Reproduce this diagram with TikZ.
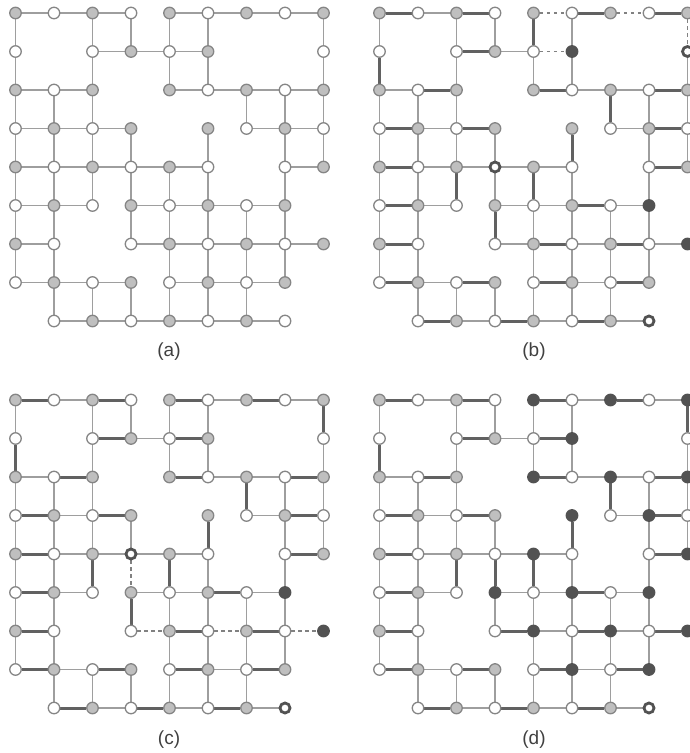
\documentclass[tikz,border=0pt]{standalone}
\usepackage{fontspec}
\setmainfont{Liberation Sans}
\pgfdeclarelayer{bg}
\pgfsetlayers{bg,main}
\definecolor{edgethin}{gray}{0.62}
\definecolor{edgethick}{gray}{0.38}
\definecolor{nodegray}{gray}{0.75}
\definecolor{nodeborder}{gray}{0.52}
\definecolor{nodedark}{gray}{0.32}
\definecolor{labelcol}{gray}{0.25}
\tikzset{
  nd/.style={circle, inner sep=0pt, minimum size=11.5pt, line width=1.3pt},
  wnode/.style={nd, draw=nodeborder, fill=white},
  gnode/.style={nd, draw=nodeborder, fill=nodegray},
  dnode/.style={draw=nodedark, fill=nodedark},
  rnode/.style={draw=nodedark, fill=white, line width=2.8pt, minimum size=10pt},
  thinedge/.style={draw=edgethin, line width=1.7pt},
  thickedge/.style={draw=edgethick, line width=3pt},
  dashedge/.style={draw=edgethick!80, line width=1.3pt, dash pattern=on 3.5pt off 3.5pt},
  lbl/.style={font=\fontsize{19}{22}\selectfont, text=labelcol, inner sep=0pt}
}
\ExplSyntaxOn
\NewDocumentCommand\MarkKeys{mmm}{
  \clist_map_inline:nn {#3} { \tikzset{#1##1/.style={#2}} }
}
\ExplSyntaxOff
\newcommand\DrawPanel[3]{%
  \foreach \j/\cols in {0/{0,1,2,3,4,5,6,7,8},1/{0,2,3,4,5,8},2/{0,1,2,4,5,6,7,8},3/{0,1,2,3,5,6,7,8},4/{0,1,2,3,4,5,7,8},5/{0,1,2,3,4,5,6,7},6/{0,1,3,4,5,6,7,8},7/{0,1,2,3,4,5,6,7},8/{1,2,3,4,5,6,7}}{
    \foreach \i in \cols {
      \ifodd\numexpr\i+\j\relax \def\bs{wnode}\else\def\bs{gnode}\fi
      \node[\bs, n-#1-\i-\j/.try] (#1-\i-\j) at ({#2+38.5*\i},{#3+38.5*\j}) {};
    }
  }
  \begin{pgfonlayer}{bg}
  \foreach \j/\cols in {0/{0,1,2,4,5,6,7},1/{2,3,4},2/{0,1,4,5,6,7},3/{0,1,2,6,7},4/{0,1,2,3,4,7},5/{0,1,3,4,5,6},6/{0,3,4,5,6,7},7/{0,1,2,4,5,6},8/{1,2,3,4,5,6}}{
    \foreach \i in \cols {
      \pgfmathtruncatemacro\ii{\i+1}
      \path[thinedge, e-#1-h-\i-\j/.try] (#1-\i-\j) -- (#1-\ii-\j);
    }
  }
  \foreach \j/\cols in {0/{0,2,3,4,5,8},1/{0,2,4,5,8},2/{0,1,2,6,7,8},3/{0,1,2,3,5,7,8},4/{0,1,2,3,4,5,7},5/{0,1,3,4,5,6,7},6/{0,1,4,5,6,7},7/{1,2,3,4,5,6}}{
    \foreach \i in \cols {
      \pgfmathtruncatemacro\jj{\j+1}
      \path[thinedge, e-#1-v-\i-\j/.try] (#1-\i-\j) -- (#1-\i-\jj);
    }
  }
  \end{pgfonlayer}
}
% panel (b)
\MarkKeys{e-b-}{thickedge}{h-0-0,h-2-0,h-5-0,h-7-0,h-2-1,h-1-2,h-4-2,h-7-2,h-0-3,h-2-3,h-7-3,h-0-4,h-7-4,h-0-5,h-5-5,h-0-6,h-4-6,h-6-6,h-0-7,h-2-7,h-4-7,h-6-7,h-1-8,h-3-8,h-5-8,v-4-0,v-0-1,v-6-2,v-5-3,v-2-4,v-4-4,v-3-5}
\MarkKeys{e-b-}{dashedge}{h-4-0,h-6-0,h-4-1,v-8-0}
\MarkKeys{n-b-}{dnode}{5-1,7-5,8-6}
\MarkKeys{n-b-}{rnode}{8-1,3-4,7-8}
% panel (c)
\MarkKeys{e-c-}{thickedge}{h-0-0,h-2-0,h-4-0,h-6-0,h-2-1,h-4-1,h-1-2,h-4-2,h-7-2,h-0-3,h-2-3,h-7-3,h-0-4,h-7-4,h-0-5,h-5-5,h-0-6,h-4-6,h-6-6,h-0-7,h-2-7,h-4-7,h-6-7,h-1-8,h-3-8,h-5-8,v-8-0,v-0-1,v-6-2,v-5-3,v-2-4,v-4-4,v-3-5}
\MarkKeys{e-c-}{dashedge}{v-3-4,h-3-6,h-5-6,h-7-6}
\MarkKeys{n-c-}{dnode}{7-5,8-6}
\MarkKeys{n-c-}{rnode}{3-4,7-8}
% panel (d)
\MarkKeys{e-d-}{thickedge}{h-0-0,h-2-0,h-4-0,h-6-0,h-2-1,h-4-1,h-1-2,h-4-2,h-7-2,h-0-3,h-2-3,h-7-3,h-0-4,h-7-4,h-0-5,h-5-5,h-0-6,h-3-6,h-5-6,h-7-6,h-0-7,h-2-7,h-4-7,h-6-7,h-1-8,h-3-8,h-5-8,v-8-0,v-0-1,v-6-2,v-5-3,v-2-4,v-3-4,v-4-4}
\MarkKeys{n-d-}{dnode}{4-0,6-0,8-0,5-1,4-2,6-2,8-2,5-3,7-3,4-4,8-4,3-5,5-5,7-5,4-6,6-6,8-6,5-7,7-7}
\MarkKeys{n-d-}{rnode}{7-8}
\begin{document}
\begin{tikzpicture}[x=1pt,y=-1pt]
\useasboundingbox (0,0) rectangle (690,753);
\DrawPanel{a}{15.5}{13}
\DrawPanel{b}{379.5}{13}
\DrawPanel{c}{15.5}{400}
\DrawPanel{d}{379.5}{400}
\node[lbl] (label-a) at (169,352) {(a)};
\node[lbl] (label-b) at (534,352) {(b)};
\node[lbl] (label-c) at (169,740) {(c)};
\node[lbl] (label-d) at (534,740) {(d)};
\end{tikzpicture}
\end{document}
